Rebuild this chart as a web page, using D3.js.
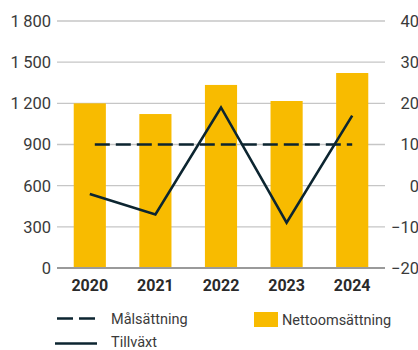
<!DOCTYPE html>
<html>
<head>
<meta charset="utf-8">
<script src="https://cdn.jsdelivr.net/npm/d3@7"></script>
<style>
    body { margin: 0; background: #fff; }
    svg { display: block; font-family: Roboto, "Noto Sans", sans-serif; }
</style>
</head>
<body>
<svg id="chart" width="418" height="350"></svg>
<script>
var years = ["2020", "2021", "2022", "2023", "2024"]
var nettoomsattning = [1200, 1122, 1334, 1217, 1421]
var tillvaxt = [-2, -7, 19, -9, 17]
var malsattning = [10, 10, 10, 10, 10]
var leftTicks = [0, 300, 600, 900, 1200, 1500, 1800]
var rightTicks = [-20, -10, 0, 10, 20, 30, 40]

var margin = { top: 21, left: 57, right: 385, bottom: 268 }

var svg = d3.select("#chart")

var x = d3.scaleBand()
    .domain(years)
    .range([margin.left, margin.right])
    .paddingInner(0.51)
    .paddingOuter(0.255)

var yLeft = d3.scaleLinear()
    .domain([0, 1800])
    .range([margin.bottom, margin.top])

var yRight = d3.scaleLinear()
    .domain([-20, 40])
    .range([margin.bottom, margin.top])

// grid lines
svg.append("g")
    .selectAll("line")
    .data(leftTicks.filter(d => d > 0))
    .enter().append("line")
    .attr("x1", margin.left)
    .attr("x2", margin.right)
    .attr("y1", d => yLeft(d))
    .attr("y2", d => yLeft(d))
    .attr("stroke", "#c6c6c6")
    .attr("stroke-width", 1.3)

// bars
svg.append("g")
    .selectAll("rect")
    .data(years)
    .enter().append("rect")
    .attr("x", d => x(d))
    .attr("width", x.bandwidth())
    .attr("y", (d, i) => yLeft(nettoomsattning[i]))
    .attr("height", (d, i) => yLeft(0) - yLeft(nettoomsattning[i]))
    .attr("fill", "#f8bb00")

// baseline
svg.append("line")
    .attr("x1", margin.left)
    .attr("x2", margin.right)
    .attr("y1", yLeft(0))
    .attr("y2", yLeft(0))
    .attr("stroke", "#9a9a9a")
    .attr("stroke-width", 2)

var cx = d => x(d) + x.bandwidth() / 2

// target line
svg.append("path")
    .datum(malsattning)
    .attr("d", d3.line().x((d, i) => cx(years[i])).y(d => yRight(d)))
    .attr("fill", "none")
    .attr("stroke", "#0c2530")
    .attr("stroke-width", 2.6)
    .attr("stroke-dasharray", "15,6")
    .attr("stroke-dashoffset", -5)

// growth line
svg.append("path")
    .datum(tillvaxt)
    .attr("d", d3.line().x((d, i) => cx(years[i])).y(d => yRight(d)))
    .attr("fill", "none")
    .attr("stroke", "#0c2530")
    .attr("stroke-width", 2.6)

// left axis labels
svg.append("g")
    .selectAll("text")
    .data(leftTicks)
    .enter().append("text")
    .attr("x", 51)
    .attr("y", d => yLeft(d))
    .attr("dy", "0.36em")
    .attr("text-anchor", "end")
    .attr("font-size", 16.5)
    .attr("fill", "#3a3a3a")
    .text(d => d3.format(",")(d).replace(",", "\u2009"))

// right axis labels
svg.append("g")
    .selectAll("text")
    .data(rightTicks)
    .enter().append("text")
    .attr("x", 419)
    .attr("y", d => yRight(d))
    .attr("dy", "0.36em")
    .attr("text-anchor", "end")
    .attr("font-size", 16.5)
    .attr("fill", "#3a3a3a")
    .text(d => d < 0 ? "\u2212" + Math.abs(d) : d)

// x labels
svg.append("g")
    .selectAll("text")
    .data(years)
    .enter().append("text")
    .attr("x", d => cx(d))
    .attr("y", 291)
    .attr("text-anchor", "middle")
    .attr("font-size", 16)
    .attr("font-weight", "bold")
    .attr("fill", "#2a2a2a")
    .text(d => d)

// legend
var legend = svg.append("g").attr("font-size", 14.5).attr("fill", "#3a3a3a")

legend.append("line")
    .attr("x1", 57).attr("x2", 97)
    .attr("y1", 318.5).attr("y2", 318.5)
    .attr("stroke", "#0c2530")
    .attr("stroke-width", 2.6)
    .attr("stroke-dasharray", "16,6")
legend.append("text").attr("x", 111).attr("y", 324).text("Målsättning")

legend.append("line")
    .attr("x1", 55).attr("x2", 97)
    .attr("y1", 343.5).attr("y2", 343.5)
    .attr("stroke", "#0c2530")
    .attr("stroke-width", 2.6)
legend.append("text").attr("x", 111).attr("y", 347).text("Tillväxt")

legend.append("rect")
    .attr("x", 254).attr("y", 312)
    .attr("width", 24).attr("height", 15)
    .attr("fill", "#f8bb00")
legend.append("text").attr("x", 282).attr("y", 324.5).text("Nettoomsättning")
</script>
</body>
</html>
